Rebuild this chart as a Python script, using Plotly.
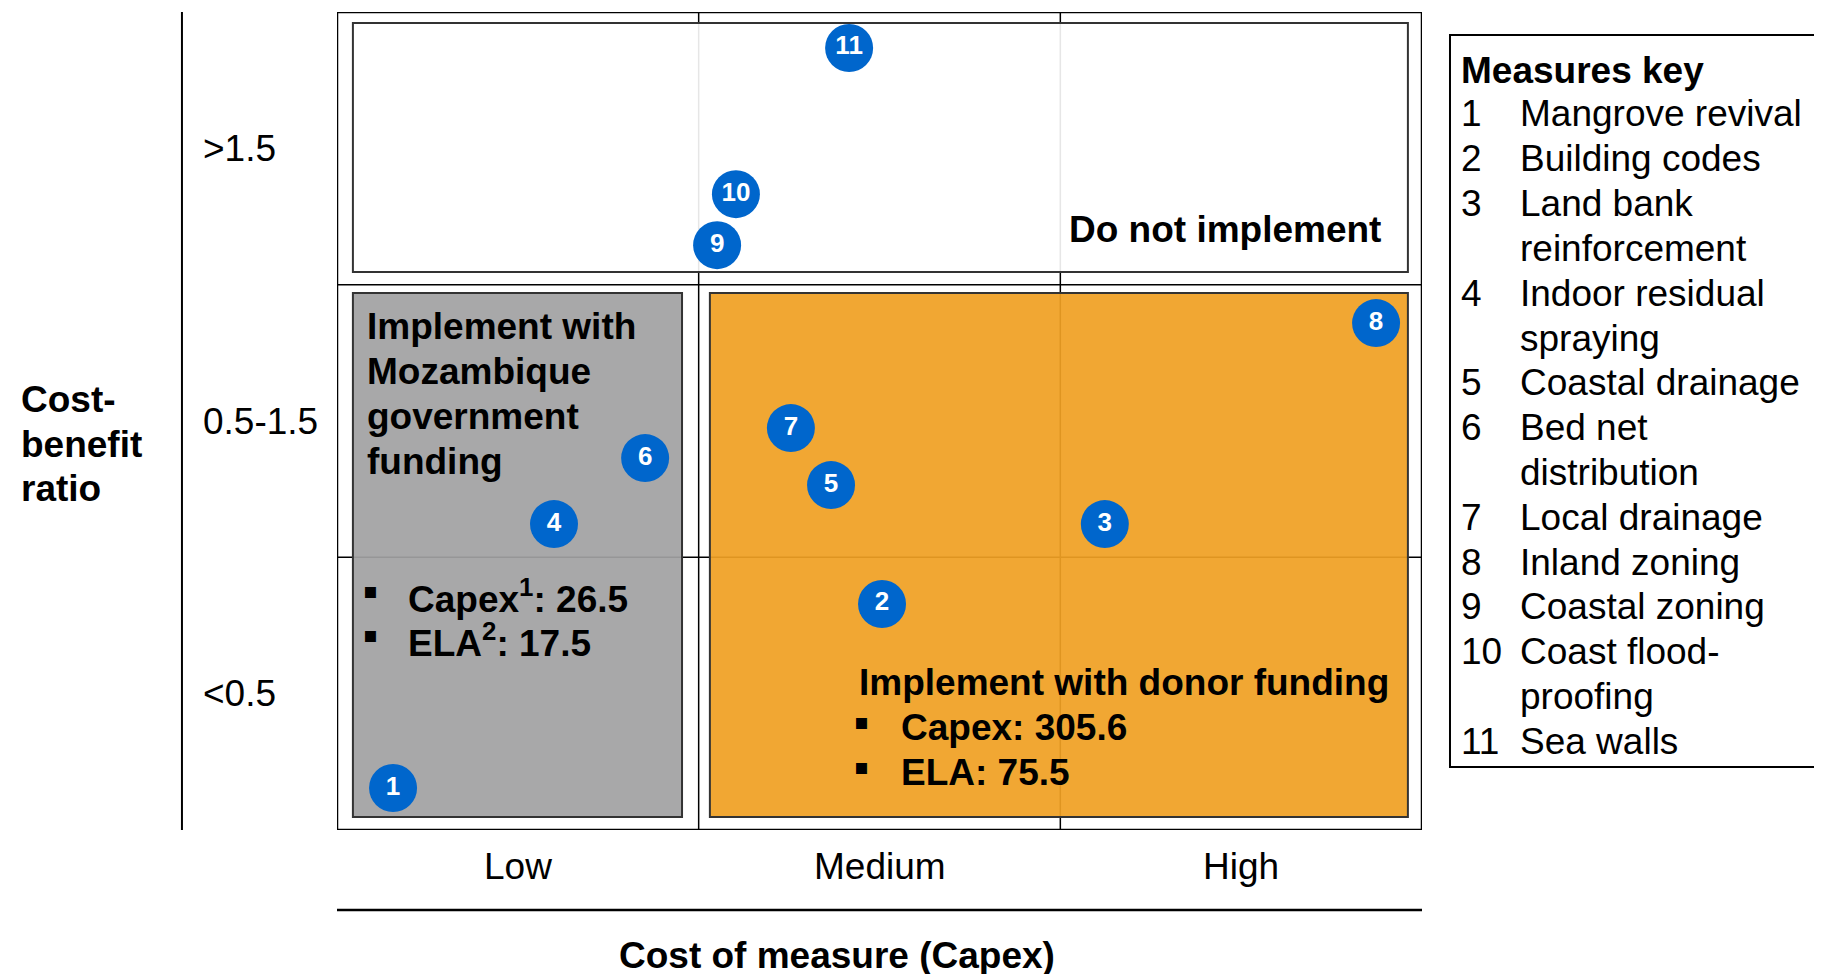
import plotly.graph_objects as go

# measures (number, cost column position, cost-benefit row position)
measure_ids = [1, 2, 3, 4, 5, 6, 7, 8, 9, 10, 11]
cost_pos = [0.155, 1.507, 2.123, 0.600, 1.366, 0.852, 1.255, 2.873, 1.051, 1.103, 1.416]
cbr_pos = [0.154, 0.829, 1.122, 1.122, 1.265, 1.364, 1.474, 1.859, 2.145, 2.332, 2.868]

measure_names = ["Mangrove revival", "Building codes", "Land bank<br>reinforcement",
                 "Indoor residual<br>spraying", "Coastal drainage", "Bed net<br>distribution",
                 "Local drainage", "Inland zoning", "Coastal zoning", "Coast flood-<br>proofing",
                 "Sea walls"]

cost_labels = ["Low", "Medium", "High"]
ratio_labels = ["<0.5", "0.5-1.5", ">1.5"]

gov_capex = 26.5
gov_ela = 17.5
donor_capex = 305.6
donor_ela = 75.5

FONT = "Liberation Sans, Arial, sans-serif"
BLUE = "#0066CC"
BIG = 37

# plot area in page pixels: x 337..1422, y 12..830 (page has an 8px body margin)
PX0, PX1, PY0, PY1 = 337, 1422, 12, 830


def py(pix):
    # page pixel row -> paper fraction
    return (PY1 - pix) / (PY1 - PY0)


def dy(pix):
    # page pixel row -> data y
    return (PY1 - pix) / (PY1 - PY0) * 3


fig = go.Figure()

fig.add_trace(go.Scatter(
    x=cost_pos, y=cbr_pos, mode="markers+text",
    text=[str(i) for i in measure_ids],
    textposition="middle center",
    textfont=dict(family=FONT, size=26, color="white", weight="bold"),
    marker=dict(size=48, color=BLUE, line=dict(width=0)),
    showlegend=False, hoverinfo="skip", cliponaxis=False,
))

shapes = []
# grid dividers, drawn beneath the shaded boxes
for v in [1, 2]:
    shapes.append(dict(type="line", xref="x", yref="y", x0=v, x1=v, y0=0, y1=3,
                       line=dict(color="black", width=1.5), layer="below"))
    shapes.append(dict(type="line", xref="x", yref="y", x0=0, x1=3, y0=v, y1=v,
                       line=dict(color="black", width=1.5), layer="below"))
# the three zones
shapes.append(dict(type="rect", xref="x", yref="y", x0=0.044, x1=2.961, y0=2.046, y1=2.960,
                   fillcolor="rgba(255,255,255,0.9)", line=dict(color="#333333", width=2), layer="below"))
shapes.append(dict(type="rect", xref="x", yref="y", x0=0.044, x1=0.954, y0=0.048, y1=1.969,
                   fillcolor="rgba(161,161,163,0.93)", line=dict(color="#333333", width=2), layer="below"))
shapes.append(dict(type="rect", xref="x", yref="y", x0=1.031, x1=2.961, y0=0.048, y1=1.969,
                   fillcolor="rgba(240,160,36,0.93)", line=dict(color="#333333", width=2), layer="below"))
# outer frame
shapes.append(dict(type="rect", xref="x", yref="y", x0=0, x1=3, y0=0, y1=3,
                   line=dict(color="black", width=2.5)))
# y axis line on the far left and line under the cost labels
shapes.append(dict(type="line", xref="paper", yref="paper", x0=-0.1429, x1=-0.1429, y0=0, y1=1,
                   line=dict(color="black", width=2)))
shapes.append(dict(type="line", xref="paper", yref="paper", x0=0, x1=1, y0=py(910), y1=py(910),
                   line=dict(color="black", width=2.5)))
# measures key box
shapes.append(dict(type="rect", xref="paper", yref="paper", x0=1.0258, x1=1.40, y0=py(767), y1=py(35),
                   line=dict(color="black", width=2)))


def txt(text, x, y, xref, yref, xanchor="center", size=BIG, family=FONT, align="center"):
    return dict(text=text, x=x, y=y, xref=xref, yref=yref, xanchor=xanchor, yanchor="middle",
                align=align, showarrow=False, font=dict(family=family, size=size, color="black"))


ann = []
# y category labels
for i, t in enumerate(ratio_labels):
    ann.append(txt(t, -0.1255, i + 0.5, "paper", "y", xanchor="left"))
# x category labels
for i, t in enumerate(cost_labels):
    ann.append(txt(t, i + 0.5, py(866), "x", "paper"))
ann.append(txt("<b>Cost of measure (Capex)</b>", 0.461, py(955), "paper", "paper"))
for k, t in enumerate(["Cost-", "benefit", "ratio"]):
    ann.append(txt("<b>" + t + "</b>", -0.2932, py(400 + 44 * k), "paper", "paper", xanchor="left"))

# zone texts
ann.append(txt("<b>Do not implement</b>", 2.892, dy(229), "x", "y", xanchor="right"))
gov_lines = ["Implement with", "Mozambique", "government", "funding"]
for k, t in enumerate(gov_lines):
    ann.append(txt("<b>" + t + "</b>", 0.078, dy(326 + 45 * k), "x", "y", xanchor="left"))

bullets = [
    (0.092, 0.192, dy(596), "Capex<sup>1</sup>: %.1f" % gov_capex),
    (0.092, 0.192, dy(640), "ELA<sup>2</sup>: %.1f" % gov_ela),
    (1.451, 1.555, dy(727), "Capex: %.1f" % donor_capex),
    (1.451, 1.555, dy(772), "ELA: %.1f" % donor_ela),
]
for bx, tx, by, t in bullets:
    ann.append(txt("▪", bx, by + 0.02, "x", "y", size=22, family="DejaVu Sans"))
    ann.append(txt("<b>" + t + "</b>", tx, by, "x", "y", xanchor="left"))
ann.append(txt("<b>Implement with donor funding</b>", 1.438, dy(682), "x", "y", xanchor="left"))

# measures key
ann.append(txt("<b>Measures key</b>", 1.0345, py(70), "paper", "paper", xanchor="left"))
line_no = 0
for num, name in zip(measure_ids, measure_names):
    ann.append(txt(str(num), 1.0345, py(114 + 44.8 * line_no), "paper", "paper", xanchor="left"))
    for part in name.split("<br>"):
        ann.append(txt(part, 1.0889, py(114 + 44.8 * line_no), "paper", "paper", xanchor="left"))
        line_no += 1

# figure is offset by the page's 8px body margin, so it is 8px smaller each way
fig.update_layout(
    width=1814, height=966,
    margin=dict(l=PX0 - 8, r=1814 - (PX1 - 8), t=PY0 - 8, b=966 - (PY1 - 8)),
    plot_bgcolor="white", paper_bgcolor="white",
    xaxis=dict(range=[0, 3], showgrid=False, zeroline=False, showticklabels=False, fixedrange=True),
    yaxis=dict(range=[0, 3], showgrid=False, zeroline=False, showticklabels=False, fixedrange=True),
    shapes=shapes, annotations=ann,
)

fig.write_html("out.html")
